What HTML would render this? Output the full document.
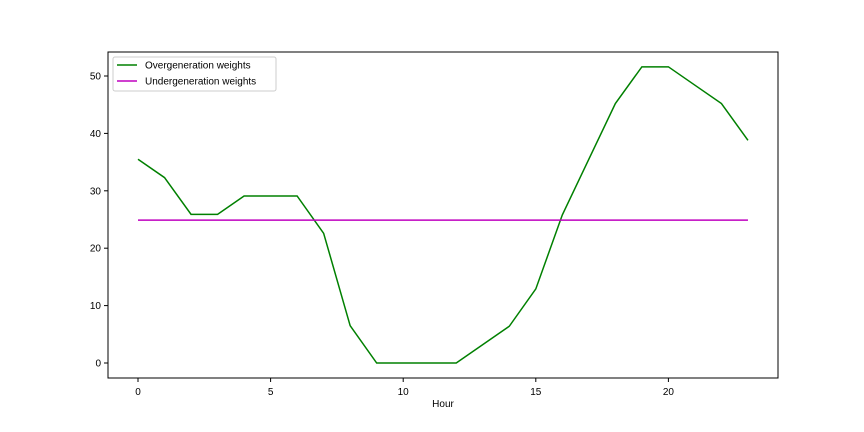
<!DOCTYPE html>
<html><head><meta charset="utf-8"><style>
body{margin:0;background:#fff;}
svg{display:block;font-family:"Liberation Sans","DejaVu Sans",sans-serif;}
</style></head><body>
<svg id="chart" width="864" height="432"></svg>
<script>
const hours=[0,1,2,3,4,5,6,7,8,9,10,11,12,13,14,15,16,17,18,19,20,21,22,23];
const overgen=[35.5,32.3,25.9,25.9,29.1,29.1,29.1,22.6,6.5,0,0,0,0,3.2,6.4,12.9,25.8,35.5,45.2,51.6,51.6,48.4,45.2,38.8];
const undergen=[24.9,24.9,24.9,24.9,24.9,24.9,24.9,24.9,24.9,24.9,24.9,24.9,24.9,24.9,24.9,24.9,24.9,24.9,24.9,24.9,24.9,24.9,24.9,24.9];
const xTicks=[0,5,10,15,20];
const yTicks=[0,10,20,30,40,50];
const NS="http://www.w3.org/2000/svg";
const svg=document.getElementById('chart');
const L=108,R=778,T=52,B=378;
function xs(v){return 138+v*26.52;}
function ys(v){return 363-v*5.74;}
function mk(tag,attrs,parent){const e=document.createElementNS(NS,tag);for(const k in attrs)e.setAttribute(k,attrs[k]);(parent||svg).appendChild(e);return e;}
const frame=mk('rect',{x:L,y:T,width:R-L,height:B-T,fill:'none',stroke:'#000','stroke-width':1});


xTicks.forEach(t=>{
  const l=mk('line',{x1:xs(t),x2:xs(t),y1:B,y2:B+4,stroke:'#000'});
  
  
  const tx=mk('text',{x:xs(t),y:B+17,'font-size':10,'text-anchor':'middle'});tx.textContent=t;
  
  
});
yTicks.forEach(t=>{
  const l=mk('line',{x1:L-4,x2:L,y1:ys(t),y2:ys(t),stroke:'#000'});
  
  
  const tx=mk('text',{x:L-7,y:ys(t)+3.5,'font-size':10,'text-anchor':'end'});tx.textContent=t;
  
  
});
const xt=mk('text',{x:(L+R)/2,y:407,'font-size':10,'text-anchor':'middle'});xt.textContent='Hour';


function line(vals,color,name){
  const p=mk('polyline',{points:hours.map((h,i)=>xs(h)+','+ys(vals[i])).join(' '),fill:'none',stroke:color,'stroke-width':1.5});
  
  
}
line(overgen,'#008000','overgeneration-line');
line(undergen,'#bf00bf','undergeneration-line');
const lg=mk('g',{});


mk('rect',{x:113,y:57,width:163,height:34,rx:2,fill:'#fff',stroke:'#ccc'},lg);
[['Overgeneration weights','#008000',65],['Undergeneration weights','#bf00bf',81]].forEach(([t,c,y])=>{
  mk('line',{x1:117,x2:137,y1:y,y2:y,stroke:c,'stroke-width':1.5},lg);
  const tx=mk('text',{x:145,y:y+3.5,'font-size':10},lg);tx.textContent=t;
  
  
});
</script>
</body></html>
